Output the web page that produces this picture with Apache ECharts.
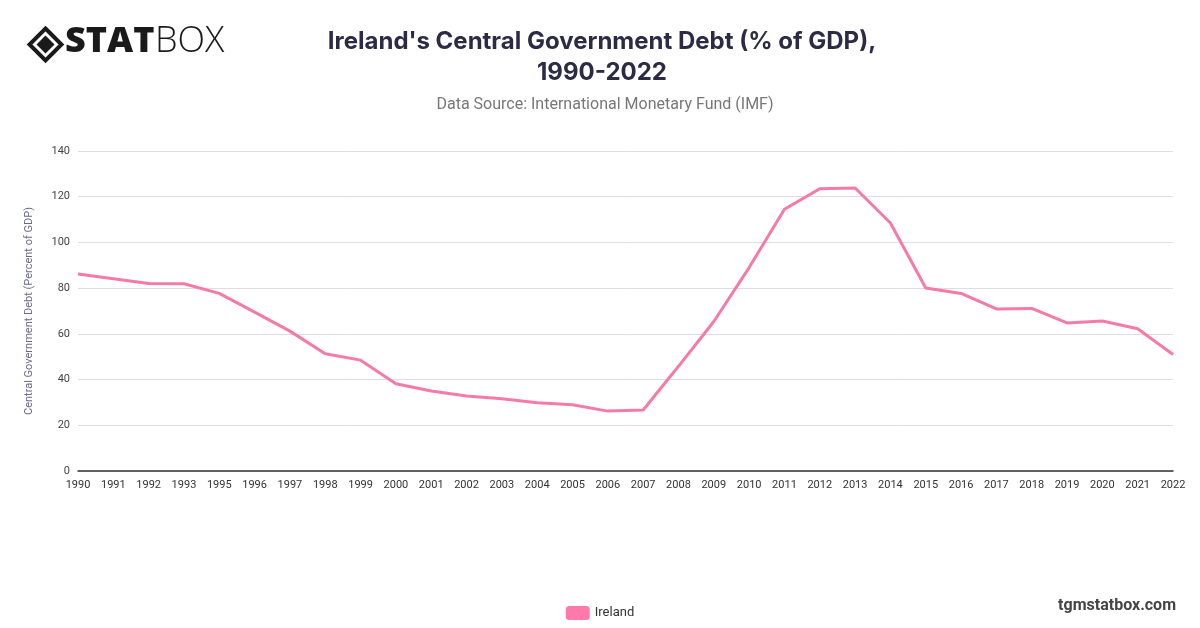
<!DOCTYPE html>
<html>
<head>
<meta charset="utf-8">
<script src="https://cdn.jsdelivr.net/npm/echarts@6/dist/echarts.min.js"></script>
<style>
html,body{margin:0;padding:0;background:#fff;}
#c{width:1200px;height:628px;}
</style>
</head>
<body>
<div id="c"></div>
<script>
var years = ['1990','1991','1992','1993','1995','1996','1997','1998','1999','2000','2001','2002','2003','2004','2005','2006','2007','2008','2009','2010','2011','2012','2013','2014','2015','2016','2017','2018','2019','2020','2021','2022'];
var ireland = [86.2,84.1,82.0,81.9,77.7,69.5,61.2,51.3,48.5,38.2,35.0,32.8,31.6,29.9,29.0,26.2,26.7,45.8,65.4,89.0,114.5,123.5,123.8,108.5,80.1,77.7,70.9,71.1,64.8,65.6,62.2,51.0];
var yTicks = {min:0, max:140, interval:20};

var chart = echarts.init(document.getElementById('c'), null, {renderer:'canvas'});
chart.setOption({
  backgroundColor:'#fff',
  animation:false,
  title:[
    {text:"Ireland's Central Government Debt (% of GDP),\n1990-2022", left:597, textAlign:'center', top:21,
     textStyle:{fontFamily:'Inter', fontSize:24, fontWeight:'bold', color:'#2d2a45', lineHeight:31}},
    {text:'Data Source: International Monetary Fund (IMF)', left:600, textAlign:'center', top:92,
     textStyle:{fontFamily:'Roboto', fontSize:16, fontWeight:'normal', color:'#777'}}
  ],
  legend:{bottom:3, left:'center', itemWidth:24, itemHeight:14, itemGap:8,
    icon:'roundRect',
    textStyle:{fontFamily:'Roboto', fontSize:13, color:'#333'},
    data:[{name:'Ireland', itemStyle:{color:'#ff7aa8'}}]},
  grid:{left:78, right:27, top:151, bottom:157},
  xAxis:{type:'category', data:years, boundaryGap:false,
    axisLine:{lineStyle:{color:'#333', width:1.5}}, axisTick:{show:false},
    axisLabel:{fontFamily:'Roboto', fontSize:11, color:'#333', margin:9, interval:0}},
  yAxis:{type:'value', min:yTicks.min, max:yTicks.max, interval:yTicks.interval,
    name:'Central Government Debt (Percent of GDP)', nameLocation:'middle', nameGap:43,
    nameTextStyle:{fontFamily:'Roboto', fontSize:11, color:'#6b6a8a'},
    axisLine:{show:false}, axisTick:{show:false},
    axisLabel:{fontFamily:'Roboto', fontSize:11, color:'#444', margin:8},
    splitLine:{lineStyle:{color:'#dedede', width:1}}},
  series:[{name:'Ireland', type:'line', data:ireland, showSymbol:false, symbol:'none',
    lineStyle:{color:'#f57aa8', width:3}, itemStyle:{color:'#ff7aa8'}}],
  graphic:[
    {type:'group', left:27, top:26, children:[
      {type:'polygon', shape:{points:[[16,0],[32,16],[16,32],[0,16]]}, style:{fill:'none', stroke:'#1a1a1a', lineWidth:4}},
      {type:'polygon', shape:{points:[[16,7],[25,16],[16,25],[7,16]]}, style:{fill:'#1a1a1a'}}
    ]},
    {type:'text', left:65, top:24, style:{text:'STAT', font:'900 36px "Open Sans"', fill:'#1a1a1a'}},
    {type:'text', left:155, top:24, style:{text:'BOX', font:'300 36px "Open Sans"', fill:'#1a1a1a'}},
    {type:'text', right:24, top:598, style:{text:'tgmstatbox.com', font:'bold 16px Roboto', fill:'#444'}}
  ]
});
</script>
</body>
</html>
